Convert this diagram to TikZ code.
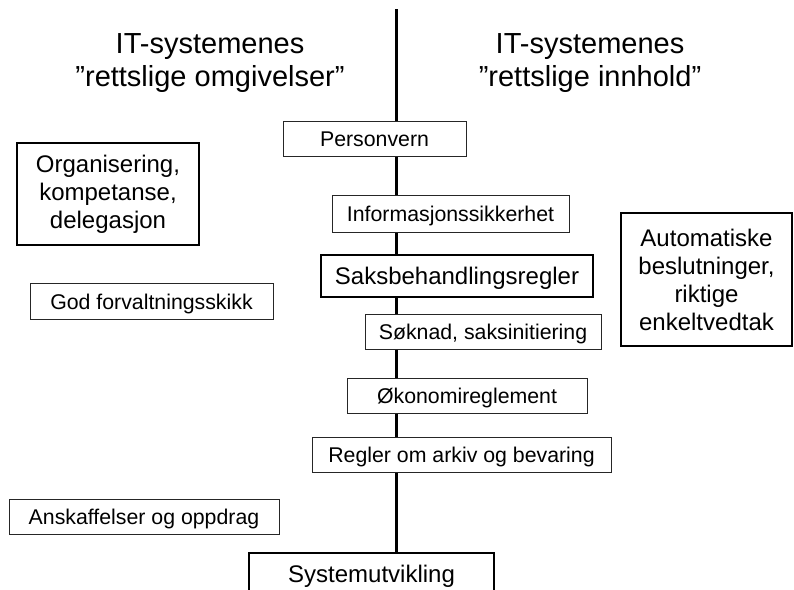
\documentclass[tikz,border=0pt]{standalone}
\usepackage{fontspec}
\setmainfont{Liberation Sans}
\begin{document}
\begin{tikzpicture}[x=1pt,y=-1pt,
  thinbox/.style={draw=black!85,line width=1pt,fill=white,inner sep=0pt,
    text height=16.5pt,text depth=0pt,
    font=\fontsize{21.3}{24}\selectfont},
  thickbox/.style={draw=black,line width=2.8pt,fill=white,inner sep=0pt,
    font=\fontsize{24}{28}\selectfont,align=center},
  thickone/.style={thickbox,text height=17.5pt,text depth=0pt},
  heading/.style={align=center,inner sep=0pt,font=\fontsize{29}{33.5}\selectfont},
  axis/.style={line width=3pt,black}]
\useasboundingbox (0,0) rectangle (794,589);
\fill[white] (0,0) rectangle (794,589);
% headings
\node[heading] (hl) at (210,63) {IT-systemenes\\”rettslige omgivelser”};
\node[heading] (hr) at (590,63) {IT-systemenes\\”rettslige innhold”};
% boxes
\node[thinbox,minimum width=183pt,minimum height=35pt] (pers) at (374.5,138.5) {Personvern};
\node[thinbox,minimum width=237pt,minimum height=37pt] (info) at (450.5,213.5) {Informasjonssikkerhet};
\node[thickone,minimum width=272pt,minimum height=42pt] (saks) at (457,276) {Saksbehandlingsregler};
\node[thinbox,minimum width=236pt,minimum height=35pt] (sok) at (483,331.5) {Søknad, saksinitiering};
\node[thinbox,minimum width=240pt,minimum height=35pt] (okon) at (467,395.5) {Økonomireglement};
\node[thinbox,minimum width=299pt,minimum height=35pt] (arkiv) at (461.5,454.5) {Regler om arkiv og bevaring};
\node[thickone,minimum width=245pt,minimum height=42pt] (sys) at (371.5,574) {Systemutvikling};
\node[thickbox,minimum width=182pt,minimum height=102pt] (org) at (108,194) {Organisering,\\kompetanse,\\delegasjon};
\node[thinbox,minimum width=243pt,minimum height=36pt] (god) at (151.5,301) {God forvaltningsskikk};
\node[thinbox,minimum width=270pt,minimum height=35pt] (ansk) at (144,516.5) {Anskaffelser og oppdrag};
\node[thickbox,minimum width=171pt,minimum height=133pt] (auto) at (706.5,279.5) {Automatiske\\beslutninger,\\riktige\\enkeltvedtak};
% vertical axis
\coordinate (top) at (396,9);
\draw[axis] (top) -- (top |- pers.north);
\draw[axis] (top |- pers.south) -- (top |- info.north);
\draw[axis] (top |- info.south) -- (top |- saks.north);
\draw[axis] (top |- saks.south) -- (top |- sok.north);
\draw[axis] (top |- sok.south) -- (top |- okon.north);
\draw[axis] (top |- okon.south) -- (top |- arkiv.north);
\draw[axis] (top |- arkiv.south) -- (top |- sys.north);
\end{tikzpicture}
\end{document}
